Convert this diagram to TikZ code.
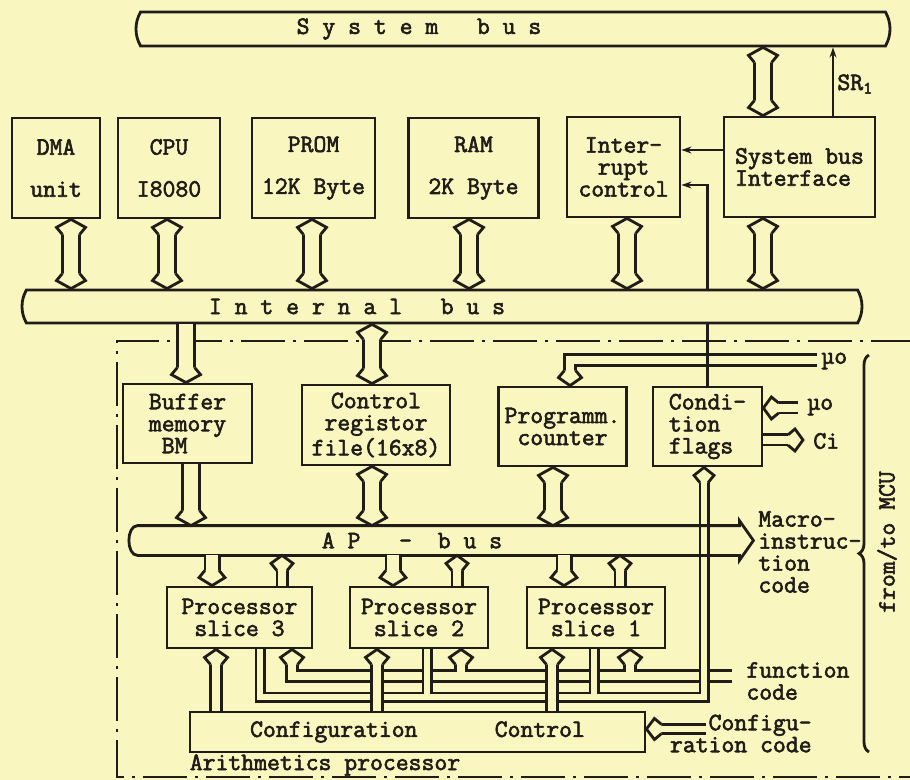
\documentclass[tikz,border=0pt]{standalone}
\usepackage{fontspec}
\setmainfont{Latin Modern Mono}[FakeBold=2.4]
\usepackage{xcolor}
\usepackage{tikz}
\usetikzlibrary{arrows.meta,positioning,calc,shapes.misc,decorations.pathreplacing}

\definecolor{paper}{RGB}{250,246,192}
\definecolor{ink}{RGB}{32,28,24}

\tikzset{
  % open head of a hollow bus line, tip at the origin, pointing up
  tip/.pic={\draw[fill=paper] (-#1/2+1.3,15) -- (-#1/2-4.5,8) -- (0,0) -- (#1/2+4.5,8) -- (#1/2-1.3,15);},
}

\begin{document}
\begin{tikzpicture}[
  x=0.5pt, y=-0.5pt,
  color=ink, line width=1.4pt,
  font=\fontsize{12.5pt}{11pt}\selectfont,
  >={Stealth[length=5pt,width=3.4pt]},
  blk/.style={draw, align=center, inner sep=1pt},
  bar/.style={draw, fill=paper, rounded rectangle, rounded rectangle arc length=60, inner sep=0pt},
  hollow/.style={double=paper, double distance=#1},
  wireout/.style={line width=#1},
  wirein/.style={draw=paper, line width=#1-2.8pt},
  tag/.style={align=left, inner sep=0pt},
  frame/.style={line width=1.1pt, dash pattern=on 22pt off 4pt on 1.5pt off 4pt},
]
\useasboundingbox (0,0) rectangle (910,780);
\fill[paper] (0,0) rectangle (910,780);
% arithmetics processor frame
\draw[frame] (915,341) -- (117,341) -- (117,777) -- (915,777);
% upper units
\node[blk, minimum width=44pt, minimum height=50pt] (dma) at (56,168) {DMA\\[10pt]unit};
\node[blk, minimum width=51pt, minimum height=50pt] (cpu) at (169,168) {CPU\\[10pt]I8080};
\node[blk, minimum width=61.5pt, minimum height=50pt] (prom) at (313.5,168) {PROM\\[10pt]12K Byte};
\node[blk, minimum width=65pt, minimum height=50pt] (ram) at (473.5,168) {RAM\\[10pt]2K Byte};
\node[blk, minimum width=56.5pt, minimum height=50pt] (intr) at (623.5,167) {Inter-\\rupt\\control};
\node[blk, minimum width=75.5pt, minimum height=50pt, align=left] (sbi) at (799.5,167) {System bus\\Interface};
% arithmetics processor units
\node[blk, minimum width=64.5pt, minimum height=39.5pt, align=left] (buf) at (187.5,423.5) {Buffer\\memory\\~BM};
\node[blk, minimum width=74pt, minimum height=40pt] (crf) at (376,425) {Control\\registor\\file(16x8)};
\node[blk, minimum width=64pt, minimum height=39.5pt] (pc) at (562.5,426.5) {Programm.\\counter};
\node[blk, minimum width=54.5pt, minimum height=39.5pt, align=left] (flags) at (707.5,426.5) {Condi-\\tion\\flags};
\node[blk, minimum width=72.5pt, minimum height=30.5pt] (sl3) at (239.5,617.5) {Processor\\slice 3};
\node[blk, minimum width=69pt, minimum height=30.5pt] (sl2) at (419,617.5) {Processor\\slice 2};
\node[blk, minimum width=69pt, minimum height=30.5pt] (sl1) at (596,617.5) {Processor\\slice 1};
\node[blk, minimum width=227.5pt, minimum height=20pt] (conf) at (417.5,732) {Configuration~~~~~~Control};
% free ends of the input and output lines
\coordinate (mu) at (817,360);
\coordinate (muin) at (798,408);
\coordinate (ci) at (803,440);
\coordinate (fc) at (732,676);
\coordinate (cfg) at (706,729);
% micro-operation to program counter
\draw[hollow=4.2pt, shorten >=7pt] (mu) -| (570,0 |- pc.north);
\pic[rotate=180] at (570,0 |- pc.north) {tip=14};
% single lines to interrupt control
\draw[->] (flags.north) |- (intr.east |- 0,185);
\draw[->] (sbi.west |- 0,150) -- (intr.east |- 0,150);
% buses
\node[bar, minimum width=377pt, minimum height=17pt, label={[xshift=-47pt]center:{S y s t e m~~~b u s}}] (sysbus) at (513,29) {};
\node[bar, minimum width=420pt, minimum height=16.5pt, label={[xshift=-42.5pt]center:{I n t e r n a l~~~b u s}}] (ibus) at (442,306.5) {};
\draw[->] (833,0 |- sbi.north) -- (833,0 |- sysbus.south);
% function code to the slices
\draw[wireout=7pt, shorten >=7pt] (fc) -| (292,0 |- sl3.south);
\draw[wireout=7pt, shorten >=7pt] (461,676) -- (461,0 |- sl2.south);
\draw[wireout=7pt, shorten >=7pt] (630,676) -- (630,0 |- sl1.south);
\draw[wirein=7pt, shorten >=7pt] (fc) -| (292,0 |- sl3.south);
\draw[wirein=7pt, shorten >=7pt] (461,676) -- (461,0 |- sl2.south);
\draw[wirein=7pt, shorten >=7pt] (630,676) -- (630,0 |- sl1.south);
\pic at (292,0 |- sl3.south) {tip=14};
\pic at (461,0 |- sl2.south) {tip=14};
\pic at (630,0 |- sl1.south) {tip=14};
% slice outputs to condition flags
\draw[wireout=5.5pt, shorten >=7pt] (260,0 |- sl3.south) |- (704,697) -- (704,0 |- flags.south);
\draw[wireout=5.5pt] (427,0 |- sl2.south) -- (427,697);
\draw[wireout=5.5pt] (594,0 |- sl1.south) -- (594,697);
\draw[wirein=5.5pt, shorten >=7pt] (260,0 |- sl3.south) |- (704,697) -- (704,0 |- flags.south);
\draw[wirein=5.5pt] (427,0 |- sl2.south) -- (427,697);
\draw[wirein=5.5pt] (594,0 |- sl1.south) -- (594,697);
\pic at (704,0 |- flags.south) {tip=11};
% AP bus
\node[minimum width=302.5pt, minimum height=13.5pt, inner sep=0pt, label={[xshift=-11.75pt]center:{A P~~~-~~b u s}}] (ap) at (435.5,540.5) {};
\draw ($(ap.north west)+(6,0)$) -- (ap.north east) -- ++(0,-5) -- ($(ap.east)+(14,0)$) -- ($(ap.south east)+(0,5)$) -- (ap.south east) -- ($(ap.south west)+(6,0)$) to[out=180,in=180] ($(ap.north west)+(6,0)$) -- cycle;
% configuration control to the slices
\draw[hollow=4.2pt, shorten >=7pt] (216,0 |- conf.north) -- (216,0 |- sl3.south);
\draw[hollow=4.2pt, shorten >=7pt] (377,0 |- conf.north) -- (377,0 |- sl2.south);
\draw[hollow=4.2pt, shorten >=7pt] (552,0 |- conf.north) -- (552,0 |- sl1.south);
\pic at (216,0 |- sl3.south) {tip=14};
\pic at (377,0 |- sl2.south) {tip=14};
\pic at (552,0 |- sl1.south) {tip=14};
% units to internal bus
\draw[hollow=7.2pt, shorten <=7pt, shorten >=7pt] (71,0 |- dma.south) -- (71,0 |- ibus.north);
\draw[hollow=7.2pt, shorten <=7pt, shorten >=7pt] (167,0 |- cpu.south) -- (167,0 |- ibus.north);
\draw[hollow=7.2pt, shorten <=7pt, shorten >=7pt] (312,0 |- prom.south) -- (312,0 |- ibus.north);
\draw[hollow=7.2pt, shorten <=7pt, shorten >=7pt] (469,0 |- ram.south) -- (469,0 |- ibus.north);
\draw[hollow=7.2pt, shorten <=7pt, shorten >=7pt] (627,0 |- intr.south) -- (627,0 |- ibus.north);
\draw[hollow=7.2pt, shorten <=7pt, shorten >=7pt] (763,0 |- sbi.south) -- (763,0 |- ibus.north);
\draw[hollow=7.2pt, shorten <=7pt, shorten >=7pt] (763,0 |- sbi.north) -- (763,0 |- sysbus.south);
\pic at (71,0 |- dma.south) {tip=20};
\pic at (167,0 |- cpu.south) {tip=20};
\pic at (312,0 |- prom.south) {tip=20};
\pic at (469,0 |- ram.south) {tip=20};
\pic at (627,0 |- intr.south) {tip=20};
\pic at (763,0 |- sbi.south) {tip=20};
\pic at (763,0 |- sysbus.south) {tip=20};
\pic[rotate=180] at (71,0 |- ibus.north) {tip=20};
\pic[rotate=180] at (167,0 |- ibus.north) {tip=20};
\pic[rotate=180] at (312,0 |- ibus.north) {tip=20};
\pic[rotate=180] at (469,0 |- ibus.north) {tip=20};
\pic[rotate=180] at (627,0 |- ibus.north) {tip=20};
\pic[rotate=180] at (763,0 |- ibus.north) {tip=20};
\pic[rotate=180] at (763,0 |- sbi.north) {tip=20};
% internal bus to the arithmetics processor
\draw[hollow=7.2pt, shorten >=7pt] (186,0 |- ibus.south) -- (186,0 |- buf.north);
\draw[hollow=7.2pt, shorten <=7pt, shorten >=7pt] (372,0 |- ibus.south) -- (372,0 |- crf.north);
\pic[rotate=180] at (186,0 |- buf.north) {tip=20};
\pic at (372,0 |- ibus.south) {tip=20};
\pic[rotate=180] at (372,0 |- crf.north) {tip=20};
% units to AP bus
\draw[hollow=7.2pt, shorten >=7pt] (191,0 |- buf.south) -- (191,0 |- ap.north);
\draw[hollow=7.2pt, shorten <=7pt, shorten >=7pt] (372,0 |- crf.south) -- (372,0 |- ap.north);
\draw[hollow=7.2pt, shorten <=7pt, shorten >=7pt] (553,0 |- pc.south) -- (553,0 |- ap.north);
\pic[rotate=180] at (191,0 |- ap.north) {tip=20};
\pic at (372,0 |- crf.south) {tip=20};
\pic[rotate=180] at (372,0 |- ap.north) {tip=20};
\pic at (553,0 |- pc.south) {tip=20};
\pic[rotate=180] at (553,0 |- ap.north) {tip=20};
% AP bus and slices
\draw[hollow=5.7pt, shorten >=7pt] (212,0 |- ap.south) -- (212,0 |- sl3.north);
\draw[hollow=5.7pt, shorten >=7pt] (393,0 |- ap.south) -- (393,0 |- sl2.north);
\draw[hollow=5.7pt, shorten >=7pt] (564,0 |- ap.south) -- (564,0 |- sl1.north);
\draw[hollow=3.7pt, shorten >=7pt] (282,0 |- sl3.north) -- (282,0 |- ap.south);
\draw[hollow=3.7pt, shorten >=7pt] (457,0 |- sl2.north) -- (457,0 |- ap.south);
\draw[hollow=3.7pt, shorten >=7pt] (620,0 |- sl1.north) -- (620,0 |- ap.south);
\pic[rotate=180] at (212,0 |- sl3.north) {tip=17};
\pic[rotate=180] at (393,0 |- sl2.north) {tip=17};
\pic[rotate=180] at (564,0 |- sl1.north) {tip=17};
\pic at (282,0 |- ap.south) {tip=13};
\pic at (457,0 |- ap.south) {tip=13};
\pic at (620,0 |- ap.south) {tip=13};
% condition flags inputs and outputs
\draw[hollow=3.7pt, shorten >=7pt] (muin) -- (flags.east |- muin);
\draw[hollow=3.7pt, shorten >=7pt] (flags.east |- ci) -- (ci);
\draw[hollow=3.2pt, shorten >=7pt] (cfg) -- (conf.east |- cfg);
\pic[rotate=90] at (flags.east |- muin) {tip=13};
\pic[rotate=-90] at (ci) {tip=13};
\pic[rotate=90] at (conf.east |- cfg) {tip=12};
% labels
\node[tag, anchor=west] (sr) at (836,84) {SR\textsubscript{1}};
\node[tag, anchor=west] (mulbl) at (820,361) {µo};
\node[tag, anchor=west] (muinlbl) at (806,407) {µo};
\node[tag, anchor=west] (cilbl) at (812,441) {Ci};
\node[tag, anchor=west] (macro) at (757,552) {Macro-\\instruc-\\tion\\code};
\node[tag, anchor=west] (fclbl) at (745,681) {function\\code};
\node[tag, anchor=east, align=right] (cfglbl) at (813,733.5) {Configu-\\ration code};
\node[tag] (aplbl) at (325,765) {Arithmetics processor};
\draw[decorate, decoration={brace, amplitude=5pt}] (869,752) -- (869,355);
\node[tag, rotate=90] (mcu) at (887,542) {from/to MCU};
\end{tikzpicture}
\end{document}
